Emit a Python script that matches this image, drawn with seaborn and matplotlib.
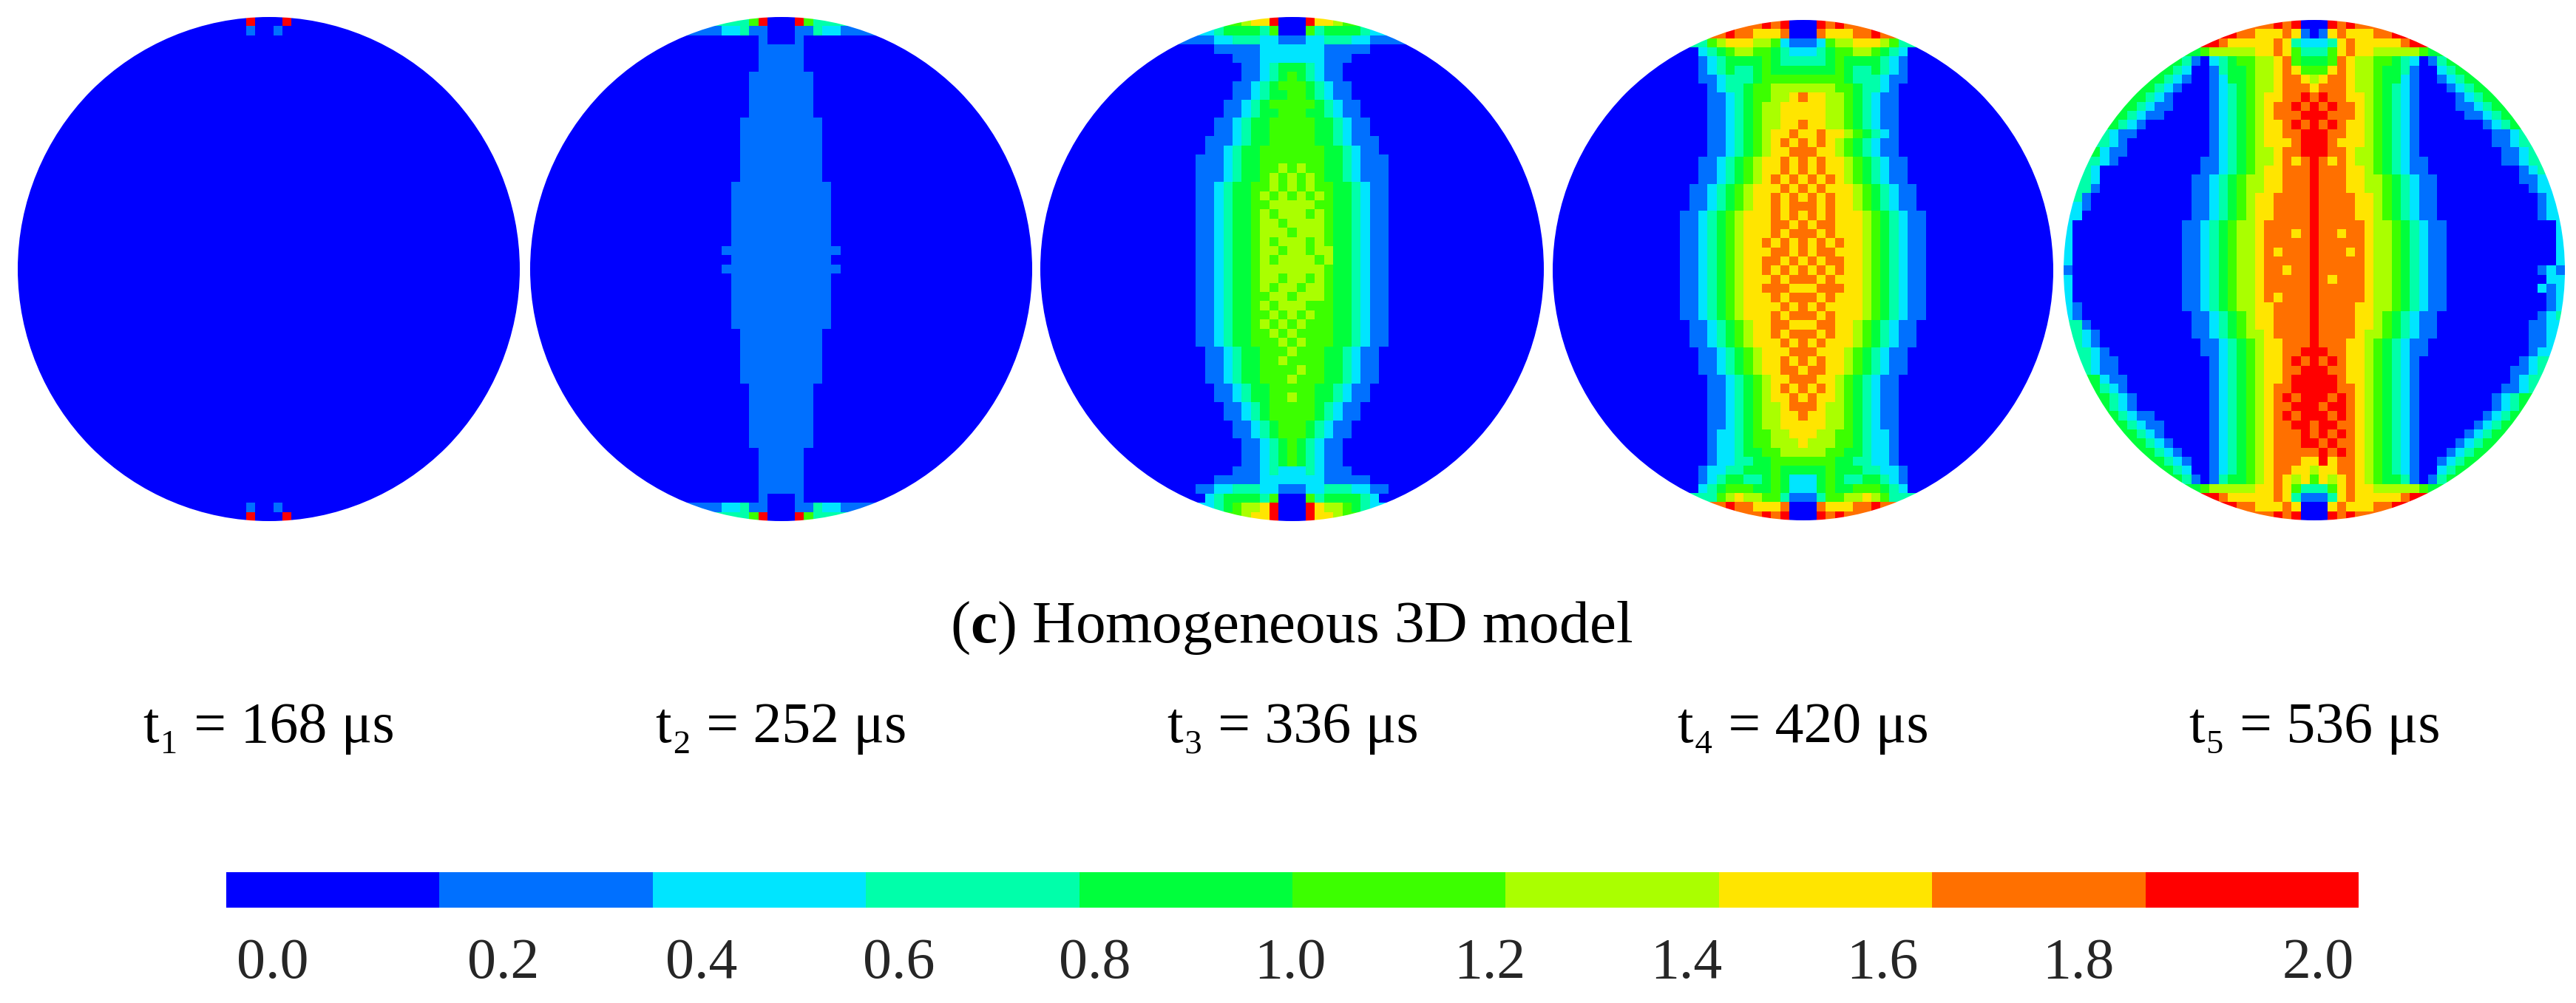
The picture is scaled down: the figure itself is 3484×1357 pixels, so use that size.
import numpy as np
import matplotlib
matplotlib.use('Agg')
import matplotlib.pyplot as plt
from matplotlib.colors import ListedColormap
from matplotlib.patches import Ellipse
import seaborn as sns

sns.set_theme(style='white')
plt.rcParams['font.family'] = ['Liberation Serif', 'DejaVu Serif']
plt.rcParams['mathtext.fontset'] = 'custom'
plt.rcParams['mathtext.rm'] = 'Liberation Serif'
plt.rcParams['mathtext.bf'] = 'Liberation Serif:bold'

band_colors = ['#0000ff', '#0070ff', '#00e5ff', '#00ffaa', '#00ff3c',
               '#3cff00', '#aaff00', '#ffe500', '#ff7000', '#ff0000']
band_levels = [0, 1, 2, 3, 4, 5, 6, 7, 8, 9]
tick_labels = ['0.0', '0.2', '0.4', '0.6', '0.8', '1.0', '1.2', '1.4', '1.6', '1.8', '2.0']
time_labels = ['t₁ = 168 μs', 't₂ = 252 μs', 't₃ = 336 μs', 't₄ = 420 μs', 't₅ = 536 μs']
caption = '($\\mathbf{c}$) Homogeneous 3D model'

# one string per row of cells, top to bottom, band index per cell.
# only the middle of a row is typed, the rest of the row is band 0.
# "left middle right" = left and right sit against the disk edge
disk1_rows = ['90009', '1001'] + ['0'] * 51 + ['1001', '90009']

disk2_rows = [
    '359000953', '122311000113221', '10001', '11111', '11111', '11111', '1111111', '1111111',
    '1111111', '1111111', '1111111', '111111111', '111111111', '111111111', '111111111',
    '111111111', '111111111', '111111111', '11111111111', '11111111111', '11111111111',
    '11111111111', '11111111111', '11111111111', '11111111111', '1111111111111', '11111111111',
    '1111111111111', '11111111111', '11111111111', '11111111111', '11111111111', '11111111111',
    '11111111111', '111111111', '111111111', '111111111', '111111111', '111111111', '111111111',
    '1111111', '1111111', '1111111', '1111111', '1111111', '1111111', '1111111', '11111',
    '11111', '11111', '11111', '11111', '10001', '122311000113221', '359000953',
]

disk3_rows = [
    '5677900097765', '2344443500053444432', '112233322111223332211', '11111222222211111',
    '1112222222111', '11234443211', '11234543211', '1123455543211', '1123445543211',
    '112345555543211', '112344555443211', '11234455555443211', '11234455555443211',
    '1112344555554432111', '1123445555555443211', '111234455555554432111',
    '111234455656554432111', '111234456565654432111', '112344556565655443211',
    '112344565656565443211', '112344556666655443211', '112344565666565443211',
    '112344566566665443211', '112344566656665443211', '112344565666565443211',
    '112344566566566443211', '112344565666656443211', '112344566666665443211',
    '112344566566565443211', '112344565665665443211', '112344556656665443211',
    '112344565666555443211', '112344556565655443211', '112344565656555443211',
    '112344556565555443211', '112344555656555443211', '1123445556555443211',
    '1123445565555443211', '1123445555655443211', '1123445556555443211',
    '11234455555443211', '11234455655443211', '112345555543211', '112345555543211',
    '1123455543211', '1123455543211', '11234543211', '11234543211', '11234543211',
    '1112322232111', '11111222222211111', '112233322111223332211', '2344443500053444432',
    '2345667900097665432', '5677900097765',
]

disk4_rows = [
    '89890009898', '8988777800087778898', '35677766521112566777653', '23456655432223455665432',
    '12344445433333454444321', '12343345444444454334321', '11233345555555554333211',
    '123345566666665543321', '112345566787766543211', '112345667777766543211',
    '112345667777766543211', '112345667787766543211', '112345677877877654321',
    '112345678787876543211', '112345677888776543211', '11234567787878776543211',
    '11234567787878776543211', '11234567878787876543211', '1123456777878787776543211',
    '1123456778787878776543211', '1123456778788878776543211', '112345677787878787776543211',
    '112345677788787887776543211', '112345677787888787776543211', '112345677878787878776543211',
    '112345677788787887776543211', '112345677887878788776543211', '112345677878787878776543211',
    '112345677787888787776543211', '112345677888777888776543211', '112345677787888787776543211',
    '112345677778787877776543211', '112345677787888787776543211', '1123456778877788776543211',
    '1123456778788878776543211', '1123456777878787776543211', '11234567778887776543211',
    '11234567787878776543211', '11234567788788776543211', '112345677888776543211',
    '112345678787876543211', '112345677878776543211', '112345667888766543211',
    '112345667787766543211', '112345667777766543211', '122345566777665543221',
    '122345566676665543221', '122344556666655443221', '122334455555554433221',
    '12233444544444544433221', '12344334542224543344321', '23455544542224544555432',
    '356766553111355667653', '8988777800087778898', '89890009898',
]

disk5_rows = [
    '89890009898', '9887778710178777889', '98777778732223787777789', '456666677875333578776666654',
    '431 23455667854445876655432 134', '432 13445667875557876654431 234',
    '4321 12445667887678876654421 1234', '4321 12345667888788876654321 1234',
    '4321 12345677889898877654321 1234', '43211 12345678898989887654321 11234',
    '43211 12345678889998887654321 11234', '4321 12345677898989877654321 1234',
    '3211 12345677889998877654321 1123', '321 12345677789998777654321 1123',
    '4211 12345667889998876654321 1123', '321 1123456678789878766543211 1123',
    '32 1123456778889888776543211 123', '32 112345667788898887766543211 112',
    '31 112345667788898887766543211 12', '31 112345677888898888776543211 12',
    '21 112345677888898888776543211 12', '2 112345677888898888776543211 12',
    '2 11234566788888988888766543211 2', '2 11234566788878988788766543211 2',
    '2 11234566788888988888766543211 2', '2 11234566787888988878766543211 2',
    '2 11234566788888988888766543211 2', '1 11234566788788988888766543211 121',
    '2 11234566788888987888766543211 22', '2 11234566788888988888766543211 212',
    '2 11234566787888988888766543211 12', '21 11234566778888988887766543211 12',
    '21 112345677888898888776543211 123', '31 112345677888898888776543211 112',
    '321 112345667888898888766543211 112', '321 1123456778889888776543211 112',
    '321 1123456778899988776543211 12', '3211 12345677898989877654321 123',
    '3211 12345677889998877654321 1123', '4211 12345677899999877654321 123',
    '4321 12345678899999887654321 1123', '4321 12345678989998987654321 1234',
    '4321 12345678899989987654321 1234', '43211 12345678989998987654321 1234',
    '43211 12345678899899887654321 1234', '4321 12345678889898987654321 1234',
    '4321 12345678889989887654321 1234', '4321 12345678888898987654321 1234',
    '4321 12345678887797887654321 1234', '432 12345678877677887654321 234',
    '431 13445678767576787654431 134', '456666677875333578776666654',
    '98777778731113787777789', '9887778700078777889', '89890009898',
]

N = 55


def to_grid(rows):
    grid = np.zeros((N, N))
    mid = N // 2
    for i, row in enumerate(rows):
        parts = row.split()
        half = int(np.sqrt((N / 2) ** 2 - (i - mid) ** 2))
        core = parts[1] if len(parts) == 3 else parts[0]
        start = mid - len(core) // 2
        end = start + len(core)
        grid[i, start:end] = [int(c) for c in core]
        if len(parts) == 3:
            left, right = parts[0], parts[2]
            grid[i, :mid - half] = int(left[0])
            grid[i, mid - half:mid - half + len(left)] = [int(c) for c in left]
            grid[i, mid + half + 1 - len(right):mid + half + 1] = [int(c) for c in right]
            grid[i, mid + half + 1:] = int(right[-1])
        elif len(core) // 2 >= half - 1:
            # the row fills the whole chord, carry its end cells past the rim
            grid[i, :start] = int(core[0])
            grid[i, end:] = int(core[-1])
    return grid


W, H = 3484, 1357
fig = plt.figure(figsize=(W / 100, H / 100), dpi=100, facecolor='white')
cmap = ListedColormap(band_colors)


def px_axes(x0, y0, x1, y1):
    ax = fig.add_axes([x0 / W, 1 - y1 / H, (x1 - x0) / W, (y1 - y0) / H])
    ax.patch.set_visible(False)
    return ax


disks = [disk1_rows, disk2_rows, disk3_rows, disk4_rows, disk5_rows]
boxes = [(24, 23, 703, 705), (717, 23, 1396, 705), (1407, 23, 2088, 705),
         (2100, 27, 2777, 704), (2791, 27, 3469, 704)]

for rows, box in zip(disks, boxes):
    ax = px_axes(*box)
    sns.heatmap(to_grid(rows), cmap=cmap, vmin=-0.5, vmax=9.5, cbar=False,
                xticklabels=False, yticklabels=False, ax=ax)
    ax.collections[0].set_clip_path(Ellipse((N / 2, N / 2), N, N, transform=ax.transData))

# colour bar
bar = px_axes(306, 1180, 3190, 1228)
sns.heatmap(np.array([band_levels]), cmap=cmap, vmin=-0.5, vmax=9.5, cbar=False,
            xticklabels=False, yticklabels=False, ax=bar)
tick_px = [369, 681, 949, 1216, 1481, 1745, 2015, 2281, 2546, 2811, 3135]
bar.set_xticks([(p - 306) / 288.4 for p in tick_px])
bar.set_xticklabels(tick_labels, fontsize=56, rotation=0)
bar.tick_params(axis='x', length=0, pad=29, bottom=True)

fig.text(1747 / W, 1 - 869 / H, caption, fontsize=58.5, ha='center', va='baseline', color='black')
for label, x in zip(time_labels, [364, 1057, 1749, 2439, 3131]):
    fig.text(x / W, 1 - 1004 / H, label, fontsize=56, ha='center', va='baseline', color='black')

fig.savefig('out.png', dpi=100)
